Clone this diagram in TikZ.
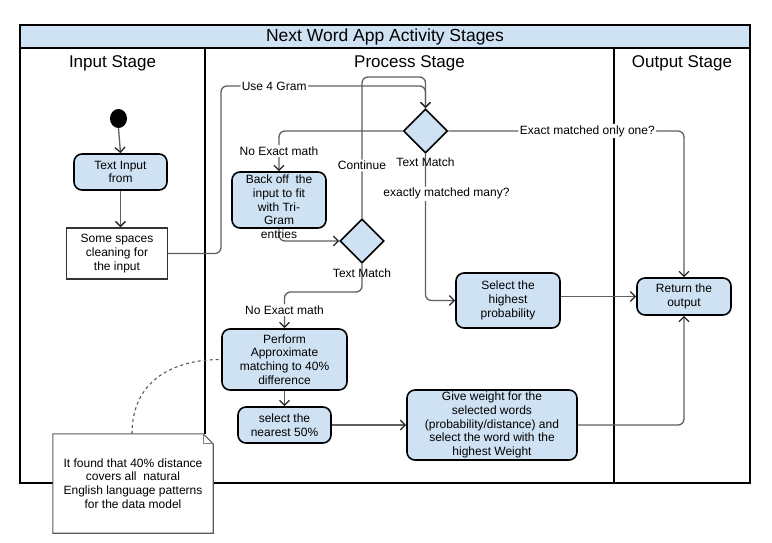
\documentclass[tikz,border=0pt]{standalone}
\usepackage{fontspec}
\setmainfont{Liberation Sans}
\usetikzlibrary{arrows.meta,shapes.geometric}
\definecolor{boxblue}{RGB}{207,226,243}
\definecolor{lineg}{RGB}{95,95,95}
\begin{document}
\begin{tikzpicture}[x=1pt,y=-1pt,
  txt/.style={font=\fontsize{12}{13.7}\selectfont, align=center},
  act/.style={txt, draw=black, line width=1.6pt, fill=boxblue, rounded corners=8pt, inner sep=1pt},
  plainbox/.style={txt, draw=black!80, line width=1.4pt, fill=white, inner sep=1pt},
  dec/.style={diamond, draw=black, line width=1.6pt, fill=boxblue, inner sep=0pt, minimum width=44pt, minimum height=44pt},
  conn/.style={draw=lineg, line width=1.3pt, rounded corners=6pt},
  arr/.style={conn, -{Straight Barb[length=5pt,width=10pt,line width=1.3pt,color=black!85]}},
  lbl/.style={txt, fill=white, inner sep=1.5pt},
  captext/.style={txt, inner sep=1pt},
  lane/.style={line width=2pt, draw=black},
  head/.style={font=\fontsize{17}{20}\selectfont}
]
\useasboundingbox (0,0) rectangle (772,543);
% frame and lanes
\filldraw[fill=boxblue, draw=black, line width=1.6pt] (20,25) rectangle (750,48);
\draw[line width=1.6pt] (20,25) rectangle (750,483);
\node[font=\fontsize{17.5}{20}\selectfont] (title) at (385,37) {Next Word App Activity Stages};
\draw[lane] (205,48) -- (205,483);
\draw[lane] (614,48) -- (614,483);
\node[head] (h1) at (112.5,63) {Input Stage};
\node[head] (h2) at (409.5,63) {Process Stage};
\node[head] (h3) at (682,63) {Output Stage};

% nodes
\fill (118.5,118.5) ellipse (8.5pt and 9.5pt);
\coordinate (start) at (118.5,128);
\node[act, minimum width=93pt, minimum height=36pt] (input) at (120.5,172) {Text Input\\from};
\node[plainbox, minimum width=101pt, minimum height=51pt] (clean) at (117,253.5) {Some spaces\\cleaning for\\the input};
\node[dec] (d1) at (425.5,131) {};
\node[act, minimum width=94pt, minimum height=56pt] (backoff) at (279,200) {};
\node[dec] (d2) at (362,241) {};
\node[act, minimum width=104pt, minimum height=55pt] (highest) at (508,300.5) {Select the\\highest\\probability};
\node[act, minimum width=94pt, minimum height=37pt] (ret) at (684,296.5) {Return the\\output};
\node[act, minimum width=125pt, minimum height=61pt] (perform) at (284.5,359.5) {Perform\\Approximate\\matching to 40\%\\difference};
\node[act, minimum width=93pt, minimum height=36pt] (nearest) at (284.5,425) {select the\\nearest 50\%};
\node[act, minimum width=170pt, minimum height=70pt] (weight) at (492,425) {Give weight for the\\selected words\\(probability/distance) and\\select the word with the\\highest Weight};

% connectors
\draw[arr] (start) -- (input.north);
\draw[arr] (input.south) -- (clean.north -| input.south);
\draw[arr] (clean.east) -- (221,253.5) -- (221,86) -- node[lbl,pos=0.26]{Use 4 Gram} (425.5,86) -- (d1.north);
\draw[arr] (d2.north) -- node[lbl,pos=0.373]{Continue} (362,77) -- (425.5,77) -- (d1.north);
\draw[arr] (d1.west) -| node[lbl,pos=0.75]{No Exact math} (backoff.north);
\draw[arr] (backoff.south) |- (d2.west);
\draw[arr] (d2.south) -- (362,292) -| node[lbl,pos=0.75]{No Exact math} (perform.north);
\draw[arr] (perform.south) -- (nearest.north);
\draw[arr] (nearest.east) -- (weight.west);
\draw[arr] (weight.east) -| (ret.south);
\draw[arr] (highest.east |- ret.west) -- (ret.west);
\draw[arr] (d1.south) |- node[lbl,pos=0.136,xshift=21pt]{exactly matched many?} (highest.west);
\draw[arr] (d1.east) -| node[lbl,pos=0.295]{Exact matched only one?} (ret.north);

\node[captext] (tm1) at (425.5,162) {Text Match};
\node[captext] (tm2) at (362,273) {Text Match};
\node[txt, inner sep=0pt] (backofftext) at (279,207) {Back off\ \ the\\input to fit\\with Tri-\\Gram\\entries};

% note
\node[txt, fill=white, minimum width=160pt, minimum height=99pt, inner sep=1pt] (note) at (133,483.5) {It found that 40\% distance\\covers all\ \ natural\\English language patterns\\for the data model};
\draw[draw=black!65, line width=1.1pt] (note.south west) -- (note.north west) -- ([xshift=-10pt]note.north east) -- ([yshift=-10pt]note.north east) -- (note.south east) -- cycle;
\draw[draw=black!50, line width=0.8pt] ([xshift=-10pt]note.north east) -- ([xshift=-10pt,yshift=-10pt]note.north east) -- ([yshift=-10pt]note.north east);
\draw[draw=black!65, line width=1.1pt, dashed, dash pattern=on 3pt off 3pt] ([xshift=-1pt]note.north) .. controls +(0,-52) and +(-50,0) .. (perform.west);
\end{tikzpicture}
\end{document}
